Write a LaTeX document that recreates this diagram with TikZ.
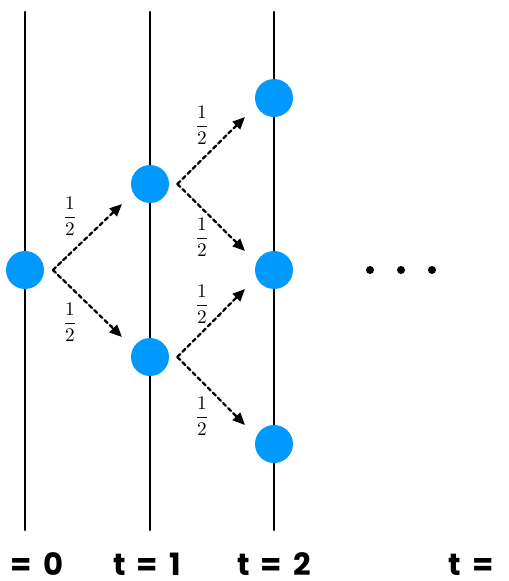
\documentclass[tikz,border=0pt]{standalone}
\usepackage{amsmath}
\usepackage{fontspec}
\usetikzlibrary{arrows.meta,positioning}
\newfontfamily\steplabelfont[WordSpace=1.7]{Poppins}
\definecolor{stateblue}{RGB}{0,153,255}

\begin{document}
\begin{tikzpicture}[line cap=round,line join=round,>={Triangle[length=7pt,width=6pt]},x=0.02cm,y=-0.02cm]
	\tikzset{state/.style={circle,fill=stateblue,inner sep=0pt,minimum size=0.76cm},
		timeline/.style={line width=1.4pt},
		move/.style={->,line width=1.3pt,dash pattern=on 2.3pt off 1.8pt},
		prob/.style={font=\fontsize{10.5}{12}\selectfont},
		steplabel/.style={font=\steplabelfont\bfseries\fontsize{17.5}{20}\selectfont,anchor=base,inner sep=0pt}}
	\useasboundingbox (0,0) rectangle (508,581);
	\foreach \x in {25,150,274}
		\draw[timeline] (\x,12) -- (\x,530);%linee del tempo
	\node[state] (s0) at (25,270) {};
	\node[state] (u1) at (150,184) {};
	\node[state] (d1) at (150,357) {};
	\node[state] (u2) at (274,98) {};
	\node[state] (m2) at (274,270) {};
	\node[state] (d2) at (274,444) {};
	% primo passo
	\draw[move] ([xshift=0.17cm]s0.east) -- ([shift={(-28,20)}]u1.center);
	\draw[move] ([xshift=0.17cm]s0.east) -- ([shift={(-28,-20)}]d1.center);
	% secondo passo
	\draw[move] ([xshift=0.16cm]u1.east) -- ([shift={(-29,19)}]u2.center);
	\draw[move] ([xshift=0.16cm]u1.east) -- ([shift={(-29,-19)}]m2.center);
	\draw[move] ([xshift=0.16cm]d1.east) -- ([shift={(-29,19)}]m2.center);
	\draw[move] ([xshift=0.16cm]d1.east) -- ([shift={(-29,-19)}]d2.center);
	\node[prob] (p1) at (70,216) {$\dfrac{1}{2}$};
	\node[prob] (p2) at (70,322) {$\dfrac{1}{2}$};
	\node[prob] (p3) at (202,125) {$\dfrac{1}{2}$};
	\node[prob] (p4) at (202,237) {$\dfrac{1}{2}$};
	\node[prob] (p5) at (202,304) {$\dfrac{1}{2}$};
	\node[prob] (p6) at (202,416) {$\dfrac{1}{2}$};
	\foreach \x in {370,401,432}
		\fill (\x,270) circle (4);%puntini
	\node[steplabel] (t0) at (37,575) {= 0};
	\node[steplabel] (t1) at (147,575) {t = 1};
	\node[steplabel] (t2) at (274,575) {t = 2};
	\node[steplabel] (tn) at (471,575) {t =};
\end{tikzpicture}
\end{document}
